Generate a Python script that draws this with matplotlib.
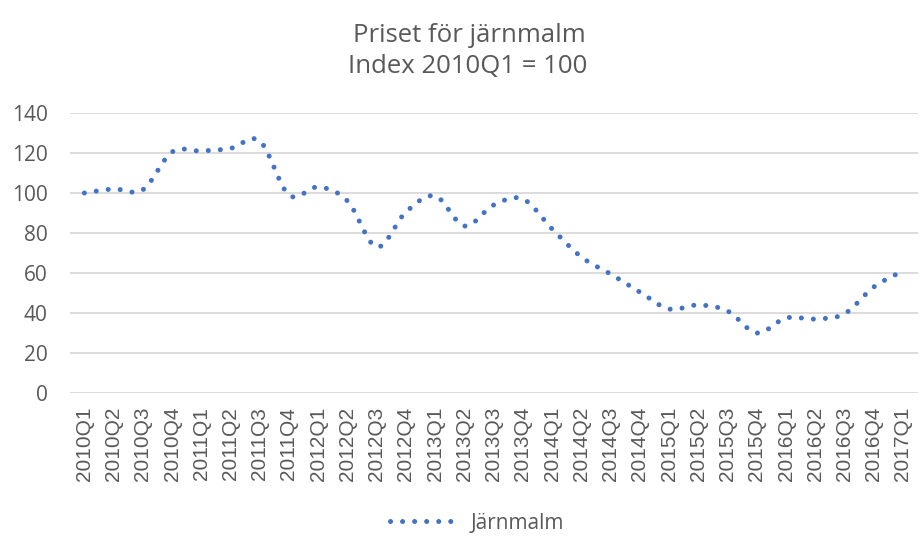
import numpy as np
import matplotlib
matplotlib.use("Agg")
import matplotlib.pyplot as plt

quarters = ["2010Q1", "2010Q2", "2010Q3", "2010Q4",
            "2011Q1", "2011Q2", "2011Q3", "2011Q4",
            "2012Q1", "2012Q2", "2012Q3", "2012Q4",
            "2013Q1", "2013Q2", "2013Q3", "2013Q4",
            "2014Q1", "2014Q2", "2014Q3", "2014Q4",
            "2015Q1", "2015Q2", "2015Q3", "2015Q4",
            "2016Q1", "2016Q2", "2016Q3", "2016Q4",
            "2017Q1"]
index_values = [100, 102, 101.6, 120.5,
                121, 122.3, 126, 99,
                103, 96, 73, 90.5,
                98.5, 83.5, 94, 97,
                82, 68, 59.5, 50.5,
                42, 44, 41, 30,
                37.5, 37, 39.6, 53,
                61]
series_name = "Järnmalm"
title_lines = ["Priset för järnmalm", "Index 2010Q1 = 100"]
yticks = [0, 20, 40, 60, 80, 100, 120, 140]

BLUE = "#4472C4"
GREY = "#595959"


def smooth_curve(x, y, steps=30):
    # Excel-like smoothed line: cubic Bezier with Catmull-Rom control points
    x = np.asarray(x, float)
    y = np.asarray(y, float)
    px = np.concatenate([[x[0]], x, [x[-1]]])
    py = np.concatenate([[y[0]], y, [y[-1]]])
    xs, ys = [], []
    t = np.linspace(0, 1, steps, endpoint=False)
    for i in range(1, len(px) - 2):
        p0 = np.array([px[i], py[i]])
        p3 = np.array([px[i + 1], py[i + 1]])
        c1 = p0 + (p3 - np.array([px[i - 1], py[i - 1]])) / 6
        c2 = p3 - (np.array([px[i + 2], py[i + 2]]) - p0) / 6
        b = ((1 - t) ** 3)[:, None] * p0 + (3 * (1 - t) ** 2 * t)[:, None] * c1 \
            + (3 * (1 - t) * t ** 2)[:, None] * c2 + (t ** 3)[:, None] * p3
        xs.extend(b[:, 0])
        ys.extend(b[:, 1])
    xs.append(x[-1])
    ys.append(y[-1])
    return np.array(xs), np.array(ys)


pos = np.arange(len(quarters))
sx, sy = smooth_curve(pos, index_values)

fig = plt.figure(figsize=(9.21, 5.36), dpi=100)
ax = fig.add_axes([0.0757, 0.2668, 0.9206, 0.5224])

ax.plot(sx, sy, color=BLUE, lw=3.6, linestyle=(0, (0.01, 2.4)),
        dash_capstyle="round", label=series_name)

ax.set_xlim(-0.5, len(quarters) - 0.5)
ax.set_ylim(0, 140)
ax.set_yticks(yticks)
ax.set_xticks(pos)
ax.set_xticklabels(quarters, rotation=90, fontsize=15,
                   family="Liberation Sans", color=GREY)
for lbl in ax.get_yticklabels():
    lbl.set_family("Open Sans")
    lbl.set_fontsize(15)
    lbl.set_color(GREY)
ax.tick_params(axis="both", length=0)
ax.tick_params(axis="y", pad=16)
ax.tick_params(axis="x", pad=10)
ax.grid(axis="y", color="#d9d9d9", lw=1.3)
ax.set_axisbelow(True)
for s in ax.spines.values():
    s.set_visible(False)

fig.text(0.510, 0.934, title_lines[0], ha="center", va="center",
         fontsize=18.5, family="Open Sans", color=GREY)
fig.text(0.508, 0.876, title_lines[1], ha="center", va="center",
         fontsize=18.5, family="Open Sans", color=GREY)

leg = fig.legend(loc="center", bbox_to_anchor=(0.518, 0.024), frameon=False,
                 handlelength=3.4, handletextpad=0.5,
                 prop={"family": "Open Sans", "size": 15})
for t in leg.get_texts():
    t.set_color(GREY)

fig.savefig("out.png", dpi=100)
